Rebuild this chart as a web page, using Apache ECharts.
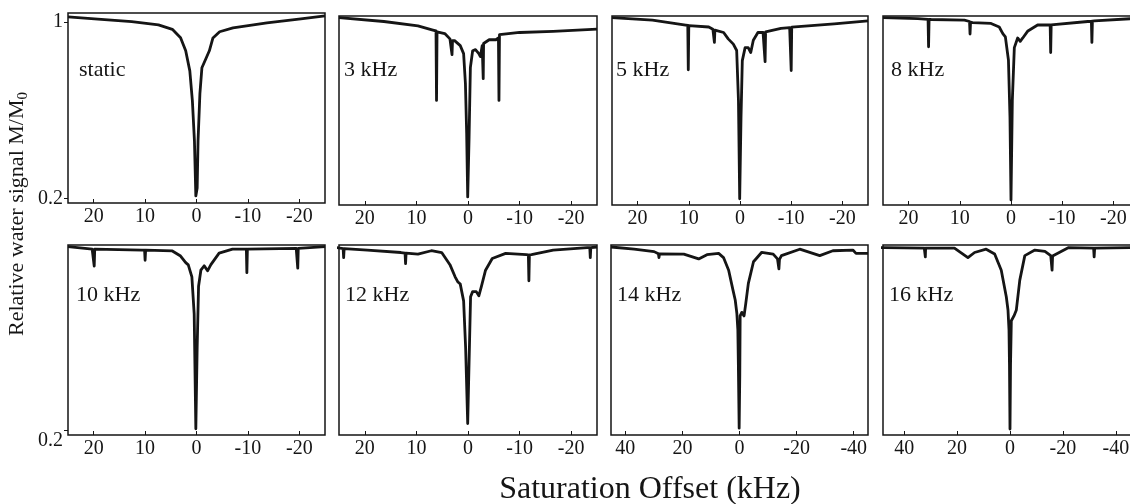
<!DOCTYPE html>
<html><head><meta charset="utf-8">
<script src="https://cdn.jsdelivr.net/npm/echarts@6/dist/echarts.min.js"></script>
<style>html,body{margin:0;padding:0;background:#fff}#c{width:1130px;height:504px}</style>
</head><body><div id="c"></div>
<script>
// ---------- data ----------
const panelLabels = ['static', '3 kHz', '5 kHz', '8 kHz', '10 kHz', '12 kHz', '14 kHz', '16 kHz'];
const xTicksNarrow = [20, 10, 0, -10, -20];
const xTicksWide = [40, 20, 0, -20, -40];
const yTicksTop = [0.2, 1];
const yTicksBottom = [0.2];
const xTitle = 'Saturation Offset (kHz)';
const yTitle = 'Relative water signal M/M';
const yTitleSub = '0';

// [saturation offset (kHz), relative signal M/M0]
const curveStatic = [[25,1.022],[19.2,1.012],[12.6,1.001],[7.4,0.986],[4.7,0.966],[3.1,0.928],[2.1,0.869],[1.3,0.778],[0.8,0.642],[0.4,0.461],[0.13,0.212],[-0.13,0.248],[-0.3,0.461],[-0.66,0.674],[-1.05,0.792],[-1.8,0.832],[-2.5,0.869],[-3.2,0.927],[-4.5,0.955],[-7.1,0.973],[-13.7,0.995],[-20.3,1.013],[-25,1.027]];
const curve3 = [[25,1.033],[16.3,1.015],[9.7,0.995],[6.8,0.976],[6.2,0.972],[6.1,0.656],[6.0,0.968],[5.65,0.966],[4.5,0.96],[3.5,0.936],[3.2,0.93],[3.1,0.864],[3.0,0.928],[2.6,0.928],[1.5,0.905],[0.85,0.869],[0.5,0.733],[0.26,0.507],[0.06,0.217],[-0.2,0.476],[-0.46,0.805],[-0.9,0.882],[-1.45,0.887],[-2.1,0.869],[-2.4,0.855],[-2.75,0.905],[-2.88,0.91],[-2.95,0.755],[-3.02,0.915],[-3.2,0.918],[-4.1,0.932],[-5.4,0.932],[-5.9,0.94],[-6.0,0.656],[-6.1,0.955],[-6.4,0.958],[-10,0.965],[-16.5,0.97],[-25,0.98]];
const curve5 = [[25,1.033],[17.1,1.021],[10.6,0.999],[10.2,0.997],[10.1,0.795],[10.0,0.996],[9.7,0.995],[6.1,0.99],[5.3,0.98],[5.1,0.978],[5.0,0.92],[4.9,0.976],[4.7,0.975],[3.2,0.965],[2.3,0.936],[1.3,0.912],[0.65,0.883],[0.3,0.656],[0.06,0.208],[-0.2,0.58],[-0.45,0.837],[-1,0.896],[-1.6,0.896],[-2.1,0.874],[-2.6,0.93],[-3.5,0.965],[-4.5,0.965],[-4.8,0.966],[-4.9,0.832],[-5.0,0.968],[-5.35,0.972],[-8,0.984],[-9.7,0.987],[-9.9,0.988],[-10.0,0.792],[-10.1,0.989],[-10.4,0.99],[-18.4,1.004],[-25,1.018]];
const curve8 = [[25,1.033],[18.2,1.028],[16.2,1.025],[16.1,0.9],[16.0,1.025],[15.6,1.024],[9.1,1.021],[8.1,1.015],[8.0,0.958],[7.9,1.012],[7.5,1.01],[3.9,1.006],[2.3,0.99],[1.6,0.96],[1.1,0.945],[0.5,0.84],[0.2,0.58],[0,0.203],[-0.26,0.656],[-0.65,0.896],[-1.3,0.94],[-1.8,0.925],[-2.3,0.94],[-3.3,0.972],[-5.2,0.999],[-7.2,0.999],[-7.65,0.999],[-7.75,0.874],[-7.85,1.0],[-8.2,1.006],[-15,1.015],[-15.7,1.016],[-15.8,0.92],[-15.9,1.017],[-16.3,1.018],[-25,1.03]];
const curve10 = [[25,1.033],[20.3,1.021],[20.0,1.021],[19.9,0.945],[19.8,1.021],[19.5,1.021],[10.6,1.017],[10.1,1.017],[10.0,0.971],[9.9,1.017],[9.6,1.017],[4.7,1.013],[3.1,0.99],[2.1,0.96],[1.6,0.95],[0.9,0.896],[0.45,0.727],[0.13,0.208],[-0.13,0.576],[-0.4,0.853],[-0.85,0.926],[-1.5,0.946],[-2.15,0.923],[-2.8,0.951],[-4.4,1.003],[-7,1.021],[-9.3,1.021],[-9.7,1.021],[-9.8,0.915],[-9.9,1.021],[-10.2,1.021],[-19.4,1.025],[-19.6,1.025],[-19.7,0.935],[-19.8,1.025],[-20.1,1.025],[-25,1.033]];
const curve12 = [[25.4,1.028],[24.2,1.024],[24.1,0.983],[24.0,1.024],[19.5,1.017],[13,1.006],[12.2,1.003],[12.1,0.956],[12.0,1.003],[11.7,1.002],[9.7,0.999],[7.1,1.014],[5.1,1.006],[3.5,0.951],[2.5,0.896],[2.0,0.874],[1.5,0.863],[0.85,0.787],[0.46,0.576],[0.06,0.232],[-0.2,0.501],[-0.5,0.806],[-0.9,0.829],[-1.6,0.829],[-2.1,0.81],[-2.6,0.853],[-3.4,0.926],[-4.7,0.979],[-7.3,1.002],[-11.3,0.996],[-11.7,0.995],[-11.8,0.878],[-11.9,0.995],[-12.3,0.996],[-16.5,1.017],[-23.1,1.028],[-23.6,1.028],[-23.7,0.983],[-23.8,1.028],[-25,1.031]];
const curve14 = [[45,1.031],[36.9,1.021],[29.9,1.01],[28.4,1.0],[28.2,0.983],[28.0,1.0],[27.6,1.005],[19.5,0.999],[14.3,0.977],[11.4,0.996],[7.3,1.002],[5.6,0.983],[3.8,0.926],[2.3,0.837],[1.5,0.791],[0.93,0.731],[0.58,0.656],[0.4,0.5],[0.12,0.211],[-0.1,0.45],[-0.23,0.719],[-0.8,0.735],[-1.6,0.719],[-2.2,0.776],[-3.1,0.866],[-4.9,0.964],[-7.8,1.007],[-11.8,0.999],[-13.3,0.977],[-13.6,0.975],[-13.8,0.932],[-14.0,0.975],[-14.7,0.992],[-21.1,1.021],[-28.1,0.992],[-32.7,1.014],[-39.7,1.017],[-40.8,1.002],[-45,1.002]];
const curve16 = [[49,1.028],[47.6,1.028],[32.4,1.026],[32.1,1.026],[32,0.986],[31.9,1.026],[21,1.026],[15.9,0.983],[13.4,1.006],[9,1.021],[5.8,0.999],[3.3,0.926],[1.4,0.806],[0.76,0.746],[0.38,0.656],[0.2,0.5],[0,0.207],[-0.2,0.5],[-0.5,0.697],[-1.5,0.719],[-2.4,0.746],[-3.7,0.881],[-5.6,0.992],[-9.4,1.017],[-13.2,1.011],[-15.4,0.992],[-15.7,0.99],[-15.9,0.926],[-16.1,0.99],[-16.7,0.996],[-22,1.028],[-31.6,1.026],[-31.8,0.986],[-32,1.026],[-48,1.028]];

const curves = [curveStatic, curve3, curve5, curve8, curve10, curve12, curve14, curve16];
const xRanges = [25, 25, 25, 25, 25, 25, 45, 48];
const xTickSets = [xTicksNarrow, xTicksNarrow, xTicksNarrow, xTicksNarrow, xTicksNarrow, xTicksNarrow, xTicksWide, xTicksWide];

// ---------- layout ----------
const FONT = '"Liberation Serif", "Times New Roman", serif';
const INK = '#151515';
const boxes = [
  {left: 68,  top: 13,  width: 257, height: 190, lx: 79,  ly: 70},
  {left: 339, top: 16,  width: 258, height: 189, lx: 344, ly: 70},
  {left: 612, top: 16,  width: 256, height: 189, lx: 616, ly: 70},
  {left: 883, top: 16,  width: 256, height: 189, lx: 891, ly: 70},
  {left: 68,  top: 245, width: 257, height: 190, lx: 76,  ly: 295},
  {left: 339, top: 245, width: 258, height: 190, lx: 345, ly: 295},
  {left: 611, top: 245, width: 257, height: 190, lx: 617, ly: 295},
  {left: 883, top: 245, width: 254, height: 190, lx: 889, ly: 295}
];

const grid = [], xAxis = [], yAxis = [], series = [], graphic = [];
boxes.forEach((b, i) => {
  grid.push({left: b.left, top: b.top, width: b.width, height: b.height,
    show: true, borderColor: INK, borderWidth: 1.5, backgroundColor: 'transparent',
    containLabel: false, outerBoundsMode: 'none'});
  xAxis.push({type: 'value', gridIndex: i, min: -xRanges[i], max: xRanges[i], inverse: true,
    splitLine: {show: false}, axisLine: {show: false, onZero: false},
    axisTick: {show: true, inside: true, length: 4, customValues: xTickSets[i], lineStyle: {color: INK, width: 1}},
    axisLabel: {show: true, customValues: xTickSets[i], margin: 4, color: INK, fontFamily: FONT, fontSize: 20}});
  const firstCol = (i === 0 || i === 4);
  const yt = i < 4 ? yTicksTop : yTicksBottom;
  yAxis.push({type: 'value', gridIndex: i, min: 0.18, max: 1.04,
    splitLine: {show: false}, axisLine: {show: false, onZero: false},
    axisTick: {show: firstCol, length: 4, customValues: yt, lineStyle: {color: INK, width: 1}},
    axisLabel: {show: firstCol, customValues: yt, margin: 5, color: INK, fontFamily: FONT, fontSize: 20,
      verticalAlign: i < 4 ? 'middle' : 'top'}});
  series.push({type: 'line', xAxisIndex: i, yAxisIndex: i, data: curves[i], showSymbol: false,
    symbol: 'none', clip: true, lineStyle: {color: INK, width: 2.8, join: 'round'}, animation: false});
  graphic.push({type: 'text', x: b.lx, y: b.ly, style: {text: panelLabels[i], fill: INK,
    font: '22px ' + FONT, align: 'left', verticalAlign: 'middle'}});
});

graphic.push({type: 'text', x: 650, y: 490, style: {text: xTitle, fill: INK,
  font: '32px ' + FONT, align: 'center', verticalAlign: 'middle'}});
graphic.push({type: 'text', x: 17, y: 214, rotation: Math.PI / 2, style: {
  text: yTitle + '{sub|' + yTitleSub + '}', fill: INK, font: '22px ' + FONT,
  align: 'center', verticalAlign: 'middle',
  rich: {sub: {fontSize: 15, fontFamily: FONT, fill: INK, padding: [12, 0, 0, 0]}}}});

const chart = echarts.init(document.getElementById('c'), null, {renderer: 'canvas'});
chart.setOption({animation: false, backgroundColor: '#fff', grid, xAxis, yAxis, series, graphic});
</script>
</body></html>
